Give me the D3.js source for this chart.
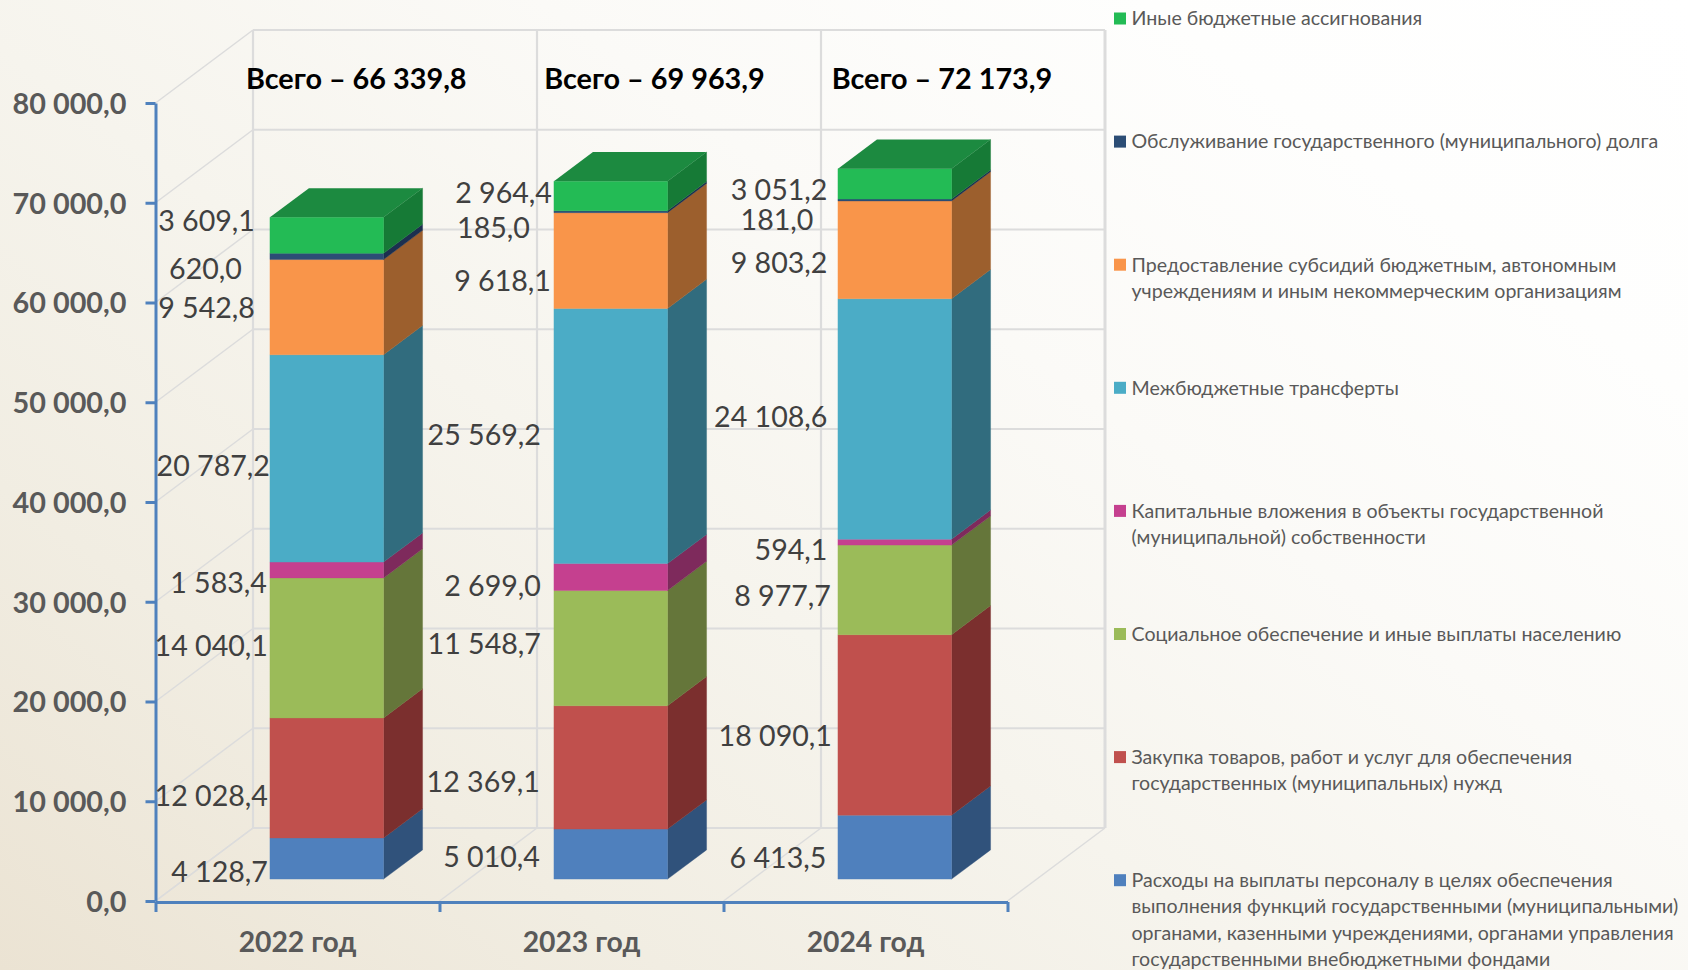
<!DOCTYPE html>
<html lang="ru">
<head>
<meta charset="utf-8">
<script src="https://cdn.jsdelivr.net/npm/d3@7/dist/d3.min.js"></script>
<style>
html,body{margin:0;padding:0;width:1688px;height:970px;overflow:hidden;background:linear-gradient(36deg,#ebe3d3 0%,#f1ede2 22%,#f6f4ed 42%,#fbfaf7 62%,#fefefd 82%,#ffffff 100%);}
svg{display:block}
text{font-family:Lato,"Open Sans","Noto Sans",sans-serif}
</style>
</head>
<body>
<svg id="chart" width="1688" height="970"></svg>
<script>
const years = ["2022 год", "2023 год", "2024 год"];
const totals = [66339.8, 69963.9, 72173.9];
const yTicks = [0, 10000, 20000, 30000, 40000, 50000, 60000, 70000, 80000];

const payroll   = [4128.7, 5010.4, 6413.5];
const purchases = [12028.4, 12369.1, 18090.1];
const social    = [14040.1, 11548.7, 8977.7];
const capital   = [1583.4, 2699.0, 594.1];
const transfers = [20787.2, 25569.2, 24108.6];
const subsidies = [9542.8, 9618.1, 9803.2];
const debt      = [620.0, 185.0, 181.0];
const other     = [3609.1, 2964.4, 3051.2];

const seriesValues = [payroll, purchases, social, capital, transfers, subsidies, debt, other];
const seriesNames = [
  ["Расходы на выплаты персоналу в целях обеспечения","выполнения функций государственными (муниципальными)","органами, казенными учреждениями, органами управления","государственными внебюджетными фондами"],
  ["Закупка товаров, работ и услуг для обеспечения","государственных (муниципальных) нужд"],
  ["Социальное обеспечение и иные выплаты населению"],
  ["Капитальные вложения в объекты государственной","(муниципальной) собственности"],
  ["Межбюджетные трансферты"],
  ["Предоставление субсидий бюджетным, автономным","учреждениям и иным некоммерческим организациям"],
  ["Обслуживание государственного (муниципального) долга"],
  ["Иные бюджетные ассигнования"]
];
const frontColors = ["#4f80bd","#c0504d","#9bbb59","#c5408f","#4bacc6","#f9954a","#2c4d75","#23bb55"];
const sideColors  = ["#30527b","#7b2f2e","#65763a","#7e2a5c","#316c7e","#9c5f2d","#1c2f4f","#167a36"];
const topColor = "#1c8a40";

// Manual label nudges (label right edge from bar left; label centre from segment middle), per series then year
const labelDx = [[-2,-14,-11.6],[-2,-14,-6],[-2,-13,-7],[-3,-13,-10.5],[0,-13,-10.5],[-15,-3,-10.5],[-28,-24,-24.5],[-15,-2,-10.5]];
const labelDy = [[13.5,2.8,10.9],[17.6,14.1,11.4],[-2,-4.4,6.5],[13.5,8.5,7.9],[7.7,-1.2,-2.4],[0.8,20.4,12.9],[12.7,16.5,19.6],[-14.7,-3.3,5.6]];
const totalDx = [90.5, 104.7, 108.2];

const svg = d3.select("#chart");
const plot = {left:155.5, right:1007.5, bottom:901, top:103};
const depthX = 97.5, depthY = 73, frontD = 0.3, backD = 0.7;

const x = d3.scaleBand().domain(d3.range(years.length)).range([plot.left, plot.right]).paddingInner(0.6).paddingOuter(0.3);
const y = d3.scaleLinear().domain([0, 80000]).range([plot.bottom, plot.top]);
const ru = d3.formatLocale({decimal:",",thousands:"\u00a0",grouping:[3],currency:["",""]});
const fmt = ru.format(",.1f");
const fmtSp = v => fmt(v).replace(/\u00a0/g," ");

const pt = (px, v, d) => [px + depthX * d, y(v) - depthY * d];
const poly = pts => pts.map(p => p.join(",")).join(" ");

// Walls
const walls = svg.append("g").attr("fill","none");
const slots = d3.range(years.length + 1).map(i => plot.left + i * x.step());
yTicks.forEach(v => {
  walls.append("line").attr("stroke","#dcdcdc").attr("stroke-width",1.5)
    .attr("x1",pt(plot.left,v,0)[0]).attr("y1",pt(plot.left,v,0)[1]).attr("x2",pt(plot.left,v,1)[0]).attr("y2",pt(plot.left,v,1)[1]);
  walls.append("line").attr("stroke","#dcdcdc").attr("stroke-width",2.2)
    .attr("x1",pt(plot.left,v,1)[0]).attr("y1",pt(plot.left,v,1)[1]).attr("x2",pt(plot.right,v,1)[0]).attr("y2",pt(plot.right,v,1)[1]);
});
slots.forEach((sx,i) => {
  walls.append("line").attr("stroke","#dcdcdc").attr("stroke-width",i===slots.length-1?3:2.2)
    .attr("x1",pt(sx,0,1)[0]).attr("y1",pt(sx,0,1)[1]).attr("x2",pt(sx,80000,1)[0]).attr("y2",pt(sx,80000,1)[1]);
  walls.append("line").attr("stroke","#dcdcdc").attr("stroke-width",1.5)
    .attr("x1",pt(sx,0,0)[0]).attr("y1",pt(sx,0,0)[1]).attr("x2",pt(sx,0,1)[0]).attr("y2",pt(sx,0,1)[1]);
});

// Stacked bars
const rows = years.map((_, i) => Object.fromEntries(seriesValues.map((s, k) => [k, s[i]])));
const stack = d3.stack().keys(d3.range(seriesValues.length))(rows);
const bars = svg.append("g");
stack.forEach((layer, k) => {
  layer.forEach((seg, i) => {
    const x0 = x(i), x1 = x(i) + x.bandwidth();
    bars.append("polygon").attr("fill",sideColors[k]).attr("stroke",sideColors[k]).attr("stroke-width",0.4)
      .attr("points",poly([pt(x1,seg[0],frontD),pt(x1,seg[0],backD),pt(x1,seg[1],backD),pt(x1,seg[1],frontD)]));
    bars.append("polygon").attr("fill",frontColors[k]).attr("stroke",frontColors[k]).attr("stroke-width",0.4)
      .attr("points",poly([pt(x0,seg[0],frontD),pt(x1,seg[0],frontD),pt(x1,seg[1],frontD),pt(x0,seg[1],frontD)]));
    if (k === stack.length - 1) {
      bars.append("polygon").attr("fill",topColor)
        .attr("points",poly([pt(x0,seg[1],frontD),pt(x1,seg[1],frontD),pt(x1,seg[1],backD),pt(x0,seg[1],backD)]));
    }
  });
});

// Axes
const axisColor = "#4f81bd";
const yAxis = d3.axisLeft(y).tickValues(yTicks).tickFormat(fmtSp).tickSize(10).tickSizeOuter(0).tickPadding(19);
const yG = svg.append("g").attr("transform",`translate(${plot.left},0)`).call(yAxis);
const xAxis = d3.axisBottom(d3.scaleLinear().domain([0,years.length]).range([plot.left,plot.right]))
  .tickValues(d3.range(years.length+1)).tickFormat("").tickSize(10).tickSizeOuter(0);
const xG = svg.append("g").attr("transform",`translate(0,${plot.bottom+1})`).call(xAxis);
[yG,xG].forEach(g => { g.selectAll("path,line").attr("stroke",axisColor).attr("stroke-width",3); });
yG.selectAll("text").attr("fill","#595959").attr("font-size",28.8).attr("font-weight",700).attr("font-family","Lato,'Open Sans',sans-serif").attr("transform","translate(0,1.2)");

svg.append("g").selectAll("text").data(years).join("text")
  .attr("x",(d,i)=>plot.left + (i+0.5)*x.step()).attr("y",942).attr("dy","0.35em")
  .attr("text-anchor","middle").attr("fill","#595959").attr("font-size",28.3).attr("font-weight",700).text(d=>d);

// Totals
svg.append("g").selectAll("text").data(totals).join("text")
  .attr("x",(d,i)=>slots[i]+totalDx[i]).attr("y",y(80000)-24).attr("dy","0.35em")
  .attr("fill","#000").attr("font-size",28.8).attr("font-weight",700).text(d=>"Всего – "+fmtSp(d));

// Data labels
const lab = svg.append("g");
stack.forEach((layer,k)=>layer.forEach((seg,i)=>{
  const p = pt(x(i),(seg[0]+seg[1])/2,frontD);
  lab.append("text").attr("text-anchor","end")
    .attr("x",p[0]+labelDx[k][i])
    .attr("y",p[1]+labelDy[k][i]).attr("dy","0.35em")
    .attr("fill","#404040").attr("font-size",28.6).text(fmtSp(seriesValues[k][i]));
}));

// Legend (top item is last series)
const legendY = d3.scaleLinear().domain([0,7]).range([18.5,880.2]);
const legend = svg.append("g");
d3.range(seriesNames.length).reverse().forEach((k,idx)=>{
  const cy = legendY(idx);
  legend.append("rect").attr("x",1114).attr("y",cy-6).attr("width",12).attr("height",12).attr("fill",frontColors[k]);
  seriesNames[k].forEach((ln,j)=>{
    legend.append("text").attr("x",1131.5).attr("y",cy+j*26.4).attr("dy","0.35em")
      .attr("fill","#595959").attr("font-size",19.6).text(ln);
  });
});
</script>
</body>
</html>
